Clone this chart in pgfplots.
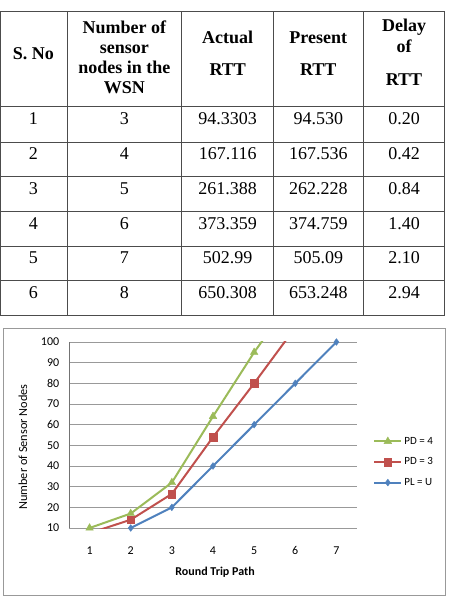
\documentclass[border=0pt]{standalone}
\usepackage{pgfplots}
\pgfplotsset{compat=1.18}
\usepackage{fontspec}
\setmainfont{Liberation Serif}
\newfontfamily\calfont{Carlito}
\definecolor{xblue}{HTML}{4F81BD}
\definecolor{xred}{HTML}{C0504D}
\definecolor{xgreen}{HTML}{9BBB59}
\begin{document}
\begin{tikzpicture}
\useasboundingbox (0,0) rectangle (451pt,-601pt);
% ---------- table ----------
\foreach \x in {0.7,67.3,181.7,273.3,363.3,444.3}
  \draw[black!70,line width=1pt] (\x pt,-11.7pt) -- (\x pt,-315pt);
\foreach \y in {11.7,106.7,142.7,176.7,211.7,246,280,315}
  \draw[black!70,line width=1pt] (0.2pt,-\y pt) -- (444.8pt,-\y pt);
\begin{scope}[every node/.style={anchor=base,inner sep=0pt,font=\fontsize{18}{20}\selectfont\bfseries}]
  \node at (33.3pt,-59.5pt) {S. No};
  \node at (124.3pt,-34pt) {Number of};
  \node at (124.3pt,-54pt) {sensor};
  \node at (124.3pt,-74pt) {nodes in the};
  \node at (124.3pt,-94pt) {WSN};
  \node at (227.7pt,-43.5pt) {Actual};
  \node at (227.7pt,-76pt) {RTT};
  \node at (318.3pt,-43.5pt) {Present};
  \node at (318.3pt,-76pt) {RTT};
  \node at (404pt,-32pt) {Delay};
  \node at (404pt,-53pt) {of};
  \node at (404pt,-86pt) {RTT};
\end{scope}
\begin{scope}[every node/.style={anchor=base,inner sep=0pt,font=\fontsize{18}{20}\selectfont}]
\foreach \i/\b/\n/\a/\p/\d in {1/125/3/94.3303/94.530/0.20,2/160/4/167.116/167.536/0.42,3/195/5/261.388/262.228/0.84,4/229.3/6/373.359/374.759/1.40,5/263.3/7/502.99/505.09/2.10,6/298.3/8/650.308/653.248/2.94}{
  \node at (33.3pt,-\b pt) {\i};
  \node at (124.3pt,-\b pt) {\n};
  \node at (227.7pt,-\b pt) {\a};
  \node at (318.3pt,-\b pt) {\p};
  \node at (404pt,-\b pt) {\d};
}
\end{scope}
% ---------- chart frame ----------
\draw[black!40,line width=0.8pt] (3.3pt,-328.3pt) rectangle (445.7pt,-595pt);
\begin{axis}[
  at={(69pt,-528pt)}, anchor=south west,
  scale only axis, width=288pt, height=186pt,
  xmin=0.5, xmax=7.5, ymin=10, ymax=100,
  xtick={1,...,7}, ytick={10,20,...,100},
  minor xtick={2.5,4.5,6.5},
  axis x line=bottom, axis y line=left,
  x axis line style={-,draw=none},
  y axis line style={-,draw=black!55,line width=0.8pt},
  xtick style={draw=none}, ytick style={draw=none},
  minor tick style={draw=black!45,line width=0.8pt},
  minor tick length=5pt, tick align=outside,
  ymajorgrids, grid style={black!40,line width=0.8pt},
  /pgf/number format/assume math mode=true,
  tick label style={font=\calfont\fontsize{12}{14}\selectfont},
  xticklabel style={yshift=-11pt},
  yticklabel style={xshift=-2pt},
  xlabel={Round Trip Path},
  xlabel style={font=\calfont\bfseries\fontsize{12}{14}\selectfont,at={(axis description cs:0.507,-0.237)},anchor=center},
  ylabel={Number of Sensor Nodes},
  ylabel style={font=\calfont\fontsize{12.3}{14}\selectfont,at={(axis description cs:-0.16,0.435)},anchor=center},
  legend style={draw=none,fill=none,at={(axis description cs:1.056,0.355)},anchor=west,
    font=\calfont\fontsize{11}{13}\selectfont,row sep=8pt,inner sep=0pt},
  legend cell align=left,
  reverse legend,
  legend image code/.code={\draw[mark repeat=2,mark phase=2] plot coordinates {(0cm,0cm)(0.475cm,0cm)(0.95cm,0cm)};},
]
% blue
\addplot[xblue,line width=2pt,mark=diamond*,mark size=3.4pt,mark options={solid,line width=0.4pt,fill=xblue}]
  coordinates {(2,10)(3,20)(4,40)(5,60)(6,80)(7,100)};
\addlegendentry{PL = U}
% red
\addplot[xred,line width=2pt,mark=square*,mark size=3.8pt,mark options={solid,line width=0.4pt,fill=xred}]
  coordinates {(2,14)(3,26.5)(4,54)(5,80)};
\addlegendentry{PD = 3}
\addplot[xred,line width=2pt,forget plot] coordinates {(1,7.5)(2,14)};
\addplot[xred,line width=2pt,forget plot] coordinates {(5,80)(6,107)};
% green
\addplot[xgreen,line width=2pt,mark=triangle*,mark size=4.4pt,mark options={solid,line width=0.4pt,fill=xgreen}]
  coordinates {(1,10)(2,17)(3,32)(4,64)(5,95)};
\addlegendentry{PD = 4}
\addplot[xgreen,line width=2pt,forget plot] coordinates {(5,95)(6,123)};
\end{axis}
\end{tikzpicture}
\end{document}
